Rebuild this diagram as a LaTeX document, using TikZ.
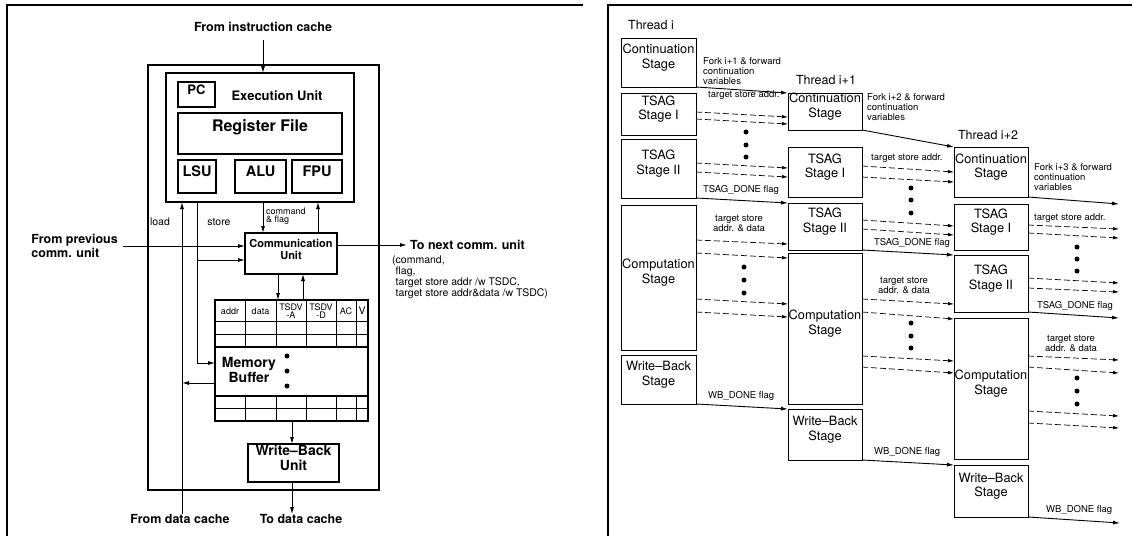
\documentclass[tikz,border=0pt]{standalone}
\usepackage{fontspec}
\setmainfont{TeX Gyre Heros}
\usetikzlibrary{arrows.meta,fit}
\newcommand\fsz[2]{\fontsize{#1}{#2}\selectfont}
\newcommand\dsh[4]{\draw[darr] ([yshift=-#2pt]#1.north east) -- ([yshift=-#4pt]#3.north west);}
\newcommand\dshout[3]{\draw[darr] ([yshift=-#2pt]#1.north east) -- ++(91,#3);}
\begin{document}
\begin{tikzpicture}[x=1pt,y=-1pt,
  box/.style={draw, line width=1.1pt, inner sep=0pt, outer sep=0pt, align=center},
  sbox/.style={draw, line width=1pt, inner sep=0pt, outer sep=0pt, align=center, font=\fsz{12.8}{14.5}},
  outerbox/.style={draw, line width=1.8pt, inner sep=0pt, outer sep=0pt},
  frame/.style={line width=1.3pt},
  arr/.style={-{Latex[length=7pt,width=4pt]}, line width=0.9pt},
  darr/.style={-{Latex[length=6pt,width=3.6pt]}, line width=0.7pt, dash pattern=on 6pt off 3pt},
  bl/.style={inner sep=0pt, font=\fsz{12.5}{14}\bfseries, align=center},
  rg/.style={inner sep=0pt, font=\fsz{10.5}{11}, align=left},
  sm/.style={inner sep=0pt, font=\fsz{9.5}{10}, align=left},
  tiny/.style={inner sep=0pt, font=\fsz{9}{8.5}, align=center},
  thr/.style={inner sep=0pt, font=\fsz{12.5}{14}},
  dot/.style={circle, fill, inner sep=0pt, minimum size=5pt}
]
\useasboundingbox (0,0) rectangle (1132,536);
\path[fill=white] (0,0) rectangle (1132,536);
% panel frames
\draw[frame] (7,536) -- (7,5) -- (583,5);
\draw[frame] (608,536) -- (608,5) -- (1132,5);

%% ================= LEFT PANEL =================
\node[bl] (ic) at (263,27) {From instruction cache};
\node[outerbox, fit={(148,65)(379,490)}] (outer) {};
\node[box, fit={(166,73)(354,202)}] (exec) {};
\node[box, fit={(178,82)(215,107)}, font=\fsz{13}{14}\bfseries] (pc) {PC};
\node[bl, font=\fsz{13}{14}\bfseries] (eu) at (277,96) {Execution Unit};
\node[box, fit={(178,113)(342,154)}, font=\fsz{16}{17}\bfseries] (rf) {Register File};
\node[box, fit={(178,160)(216,193)}, font=\fsz{14.5}{15}\bfseries] (lsu) {LSU};
\node[box, fit={(235,160)(286,193)}, font=\fsz{14.5}{15}\bfseries] (alu) {ALU};
\node[box, fit={(292,160)(342,193)}, font=\fsz{14.5}{15}\bfseries] (fpu) {FPU};
\draw[arr, shorten <=8pt] (ic.south) -- (ic.south |- exec.north);

\coordinate (xload) at (182,0);
\coordinate (xstore) at (197,0);
\coordinate (xcmd) at (263,0);
\coordinate (xflag) at (318,0);
\coordinate (xdn) at (278,0);
\coordinate (xup) at (303,0);
\coordinate (xwb) at (292,0);
\coordinate (ystc) at (0,260);
\coordinate (ystmb) at (0,363);
\coordinate (ymbl) at (0,383);

\node[box, fit={(245,233)(337,274)}, font=\fsz{11}{12.5}\bfseries] (comm) {Communication\\Unit};
\node[rg] (ldl) at (160,222) {load};
\node[rg] (stl) at (219,222) {store};
\node[tiny, anchor=west, align=left] (cfl) at (266,216) {command\\\& flag};

\draw[arr] (exec.south -| xcmd) -- (comm.north -| xcmd);
\draw[arr] (comm.north -| xflag) -- (exec.south -| xflag);

\node[bl, align=left, anchor=east] (fpc) at (118,246) {From previous\\comm. unit};
\draw[arr, shorten <=5pt] (fpc.east) -- (fpc.east -| comm.west);
\node[bl, anchor=west] (tnc) at (410,245) {To next comm. unit};
\draw[arr, shorten >=3pt] (comm.east |- tnc.west) -- (tnc.west);
\node[rg, anchor=north west] (lst) at (392,256) {(command,\\\hphantom{(}flag,\\\hphantom{(}target store addr /w TSDC,\\\hphantom{(}target store addr\&data /w TSDC)};

% memory buffer table
\node[box, fit={(215,300)(368,421)}] (tbl) {};
\node[box, fit={(215,347)(368,396)}] (membuf) {};
\foreach \yy in {321,334,408} \draw[line width=0.9pt] (215,\yy) -- (368,\yy);
\foreach \xx in {245,276,306,336,356} {
  \draw[line width=0.9pt] (\xx,300) -- (\xx,347);
  \draw[line width=0.9pt] (\xx,396) -- (\xx,421);
}
\node[tiny] (h1) at (230,311) {addr};
\node[tiny] (h2) at (260.5,311) {data};
\node[tiny] (h3) at (291,311) {TSDV\\-A};
\node[tiny] (h4) at (321,311) {TSDV\\-D};
\node[tiny] (h5) at (346,311) {AC};
\node[tiny, font=\fsz{10.5}{10}] (h6) at (362,311) {V};
\node[bl, font=\fsz{14}{15.5}\bfseries] (mbt) at (249,370) {Memory\\Buffer};
\foreach \yy [count=\k] in {356,371,386} \node[dot] (mbd\k) at (287,\yy) {};

\draw[arr] (comm.south -| xdn) -- (tbl.north -| xdn);
\draw[arr] (tbl.north -| xup) -- (comm.south -| xup);

% load / store paths
\node[bl] (fdc) at (180,519) {From data cache};
\node[bl] (tdc) at (301,519) {To data cache};
\draw[arr] (fdc.north -| xload) -- (xload |- exec.south);
\draw[arr] (exec.south -| xstore) |- (membuf.west |- ystmb);
\draw[arr] (xstore |- ystc) -- (comm.west |- ystc);
\draw[arr] (membuf.west |- ymbl) -- (xload |- ymbl);

\node[box, fit={(248,444)(339,482)}, font=\fsz{14}{15.5}\bfseries] (wbu) {Write--Back\\Unit};
\draw[arr] (tbl.south -| xwb) -- (wbu.north -| xwb);
\draw[arr] (wbu.south -| xwb) -- (xwb |- tdc.north);

%% ================= RIGHT PANEL =================
\node[thr] (t0) at (651,25) {Thread i};
\node[thr] (t1) at (826,80) {Thread i+1};
\node[thr] (t2) at (988,135) {Thread i+2};

% thread i
\node[sbox, fit={(621,38)(696,87)}] (c0) {Continuation\\Stage};
\node[sbox, fit={(621,93)(696,135)}] (a0) {TSAG\\Stage I};
\node[sbox, fit={(621,139)(696,198)}] (b0) {TSAG\\Stage II};
\node[sbox, fit={(621,205)(696,350)}] (p0) {Computation\\Stage};
\node[sbox, fit={(621,355)(696,404)}] (w0) {Write--Back\\Stage};
% thread i+1
\node[sbox, fit={(788,93)(862,130)}] (c1) {Continuation\\Stage};
\node[sbox, fit={(788,147)(862,197)}] (a1) {TSAG\\Stage I};
\node[sbox, fit={(788,203)(862,250)}] (b1) {TSAG\\Stage II};
\node[sbox, fit={(788,253)(862,404)}] (p1) {Computation\\Stage};
\node[sbox, fit={(788,409)(862,460)}] (w1) {Write--Back\\Stage};
% thread i+2
\node[sbox, fit={(954,147)(1028,197)}] (c2) {Continuation\\Stage};
\node[sbox, fit={(954,204)(1028,250)}] (a2) {TSAG\\Stage I};
\node[sbox, fit={(954,255)(1028,312)}] (b2) {TSAG\\Stage II};
\node[sbox, fit={(954,318)(1028,459)}] (p2) {Computation\\Stage};
\node[sbox, fit={(954,465)(1028,517)}] (w2) {Write--Back\\Stage};

\coordinate (f3) at (1119,204);
\coordinate (td3) at (1119,318);
\coordinate (wd3) at (1120,523);

% solid arrows
\draw[arr] (c0.south east) -- (c1.north west);
\draw[arr] (c1.south east) -- (c2.north west);
\draw[arr] (c2.south east) -- (f3);
\draw[arr] (b0.south east) -- (b1.north west);
\draw[arr] (b1.south east) -- (b2.north west);
\draw[arr] (b2.south east) -- (td3);
\draw[arr] (w0.south east) -- (w1.north west);
\draw[arr] (w1.south east) -- (w2.north west);
\draw[arr] (w2.south east) -- (wd3);

% dashed arrows thread i -> i+1
\dsh{a0}{19}{c1}{24}
\dsh{a0}{26}{c1}{31}
\dsh{b0}{24}{a1}{21}
\dsh{b0}{33}{a1}{30}
\dsh{p0}{35}{b1}{41}
\dsh{p0}{48}{p1}{5}
\dsh{p0}{94}{p1}{51}
\dsh{p0}{107}{p1}{64}
% thread i+1 -> i+2
\dsh{a1}{19}{c2}{25}
\dsh{a1}{30}{c2}{35}
\dsh{b1}{17}{a2}{22}
\dsh{b1}{26}{a2}{31}
\dsh{p1}{46}{b2}{49}
\dsh{p1}{59}{p2}{1}
\dsh{p1}{103}{p2}{43}
\dsh{p1}{114}{p2}{55}
% thread i+2 -> out
\dshout{a2}{21}{4}
\dshout{a2}{29}{5}
\dshout{b2}{23}{5}
\dshout{b2}{33}{4}
\dshout{p2}{38}{4}
\dshout{p2}{49}{6}
\dshout{p2}{93}{5}
\dshout{p2}{105}{5}

% dots
\foreach \yy [count=\k] in {132,145,157} \node[dot] (da0\k) at (746,\yy) {};
\foreach \yy [count=\k] in {267,280,293} \node[dot] (dp0\k) at (744,\yy) {};
\foreach \yy [count=\k] in {188,200,213} \node[dot] (da1\k) at (911,\yy) {};
\foreach \yy [count=\k] in {323,336,348} \node[dot] (dp1\k) at (911,\yy) {};
\foreach \yy [count=\k] in {247,259,271} \node[dot] (da2\k) at (1077,\yy) {};
\foreach \yy [count=\k] in {378,391,404} \node[dot] (dp2\k) at (1077,\yy) {};

% labels
\node[sm, anchor=north west] (lf1) at (703,57) {Fork i+1 \& forward\\continuation\\variables};
\node[sm, anchor=north west] (lf2) at (867,93) {Fork i+2 \& forward\\continuation\\variables};
\node[sm, anchor=north west] (lf3) at (1034,163) {Fork i+3 \& forward\\continuation\\variables};
\node[sm, anchor=west] (la0) at (708,95) {target store addr.};
\node[sm, anchor=west] (la1) at (871,158) {target store addr.};
\node[sm, anchor=west] (la2) at (1034,218) {target store addr.};
\node[sm, anchor=west] (ld0) at (703,190) {TSAG\_DONE flag};
\node[sm, anchor=west] (ld1) at (874,243) {TSAG\_DONE flag};
\node[sm, anchor=west] (ld2) at (1037,306) {TSAG\_DONE flag};
\node[sm, align=center] (lp0) at (739,223) {target store\\addr. \& data};
\node[sm, align=center] (lp1) at (904,285) {target store\\addr. \& data};
\node[sm, align=center] (lp2) at (1071,343) {target store\\addr. \& data};
\node[sm, anchor=west] (lw0) at (708,396) {WB\_DONE flag};
\node[sm, anchor=west] (lw1) at (874,452) {WB\_DONE flag};
\node[sm, anchor=west] (lw2) at (1046,510) {WB\_DONE flag};
\end{tikzpicture}
\end{document}
